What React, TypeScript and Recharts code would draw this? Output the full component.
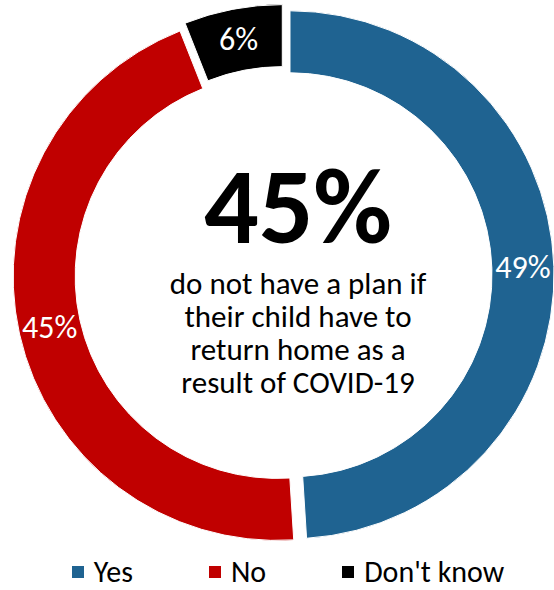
import { PieChart, Pie, Cell, Sector, Legend } from "recharts"

const categories = ["Yes", "No", "Don't know"]
const values = [49, 45, 6]
const colors = ["#1F6391", "#C00000", "#000000"]
const headline = "45%"
const captionLines = ["do not have a plan if", "their child have to", "return home as a", "result of COVID-19"]

const data = categories.map((name, i) => ({ name, value: values[i] }))

const RADIAN = Math.PI / 180
const EXPLODE = 6.5
const FONT = "Carlito, Calibri, Lato, 'Open Sans', sans-serif"

const ExplodedSector = (props: any) => {
  const { cx, cy, midAngle } = props
  const dx = EXPLODE * Math.cos(-midAngle * RADIAN)
  const dy = EXPLODE * Math.sin(-midAngle * RADIAN)
  return <Sector {...props} cx={cx + dx} cy={cy + dy} stroke="#ffffff" strokeWidth={1} />
}

const renderLabel = (props: any) => {
  const { cx, cy, midAngle, innerRadius, outerRadius, value } = props
  const r = (innerRadius + outerRadius) / 2 + EXPLODE
  const x = cx + r * Math.cos(-midAngle * RADIAN)
  const y = cy + r * Math.sin(-midAngle * RADIAN)
  return (
    <text x={x} y={y} fill="#ffffff" textAnchor="middle" dominantBaseline="central" fontSize={32} fontFamily={FONT}>
      {`${value}%`}
    </text>
  )
}

const renderLegend = () => (
  <div
    style={{
      display: "flex",
      justifyContent: "center",
      gap: 76,
      paddingLeft: 22,
      height: 36,
      lineHeight: "36px",
      fontFamily: FONT,
      fontSize: 30,
      color: "#000",
    }}
  >
    {categories.map((c, i) => (
      <div key={c} style={{ display: "flex", alignItems: "center" }}>
        <span style={{ display: "inline-block", width: 12, height: 12, background: colors[i], marginRight: 10 }} />
        <span>{c}</span>
      </div>
    ))}
  </div>
)

export default function App() {
  return (
    <div style={{ position: "absolute", left: 0, top: 0, width: 554, height: 590, background: "#fff" }}>
      <PieChart width={554} height={590} margin={{ top: 0, right: 0, bottom: 0, left: 0 }}>
        <Pie
          data={data}
          dataKey="value"
          nameKey="name"
          cx={283.5}
          cy={275}
          innerRadius={202}
          outerRadius={264}
          startAngle={90}
          endAngle={-270}
          stroke="none"
          shape={ExplodedSector}
          inactiveShape={ExplodedSector}
          activeShape={ExplodedSector}
          label={renderLabel}
          labelLine={false}
          isAnimationActive={false}
        >
          {data.map((d, i) => (
            <Cell key={d.name} fill={colors[i]} />
          ))}
        </Pie>
        <Legend content={renderLegend} wrapperStyle={{ position: "absolute", top: 554, left: 0, width: 554, height: 36 }} />
      </PieChart>
      <div
        style={{
          position: "absolute",
          left: 148,
          top: 152,
          width: 300,
          textAlign: "center",
          fontFamily: FONT,
          color: "#000",
        }}
      >
        <div style={{ fontSize: 108, fontWeight: 700, lineHeight: "108px", height: 108 }}>{headline}</div>
      </div>
      <div
        style={{
          position: "absolute",
          left: 143,
          top: 267,
          width: 310,
          textAlign: "center",
          fontFamily: FONT,
          fontSize: 31,
          lineHeight: "33px",
          color: "#000",
        }}
      >
        {captionLines.map((l, i) => (
          <span key={l}>
            {i > 0 && <br />}
            {l}
          </span>
        ))}
      </div>
    </div>
  )
}
